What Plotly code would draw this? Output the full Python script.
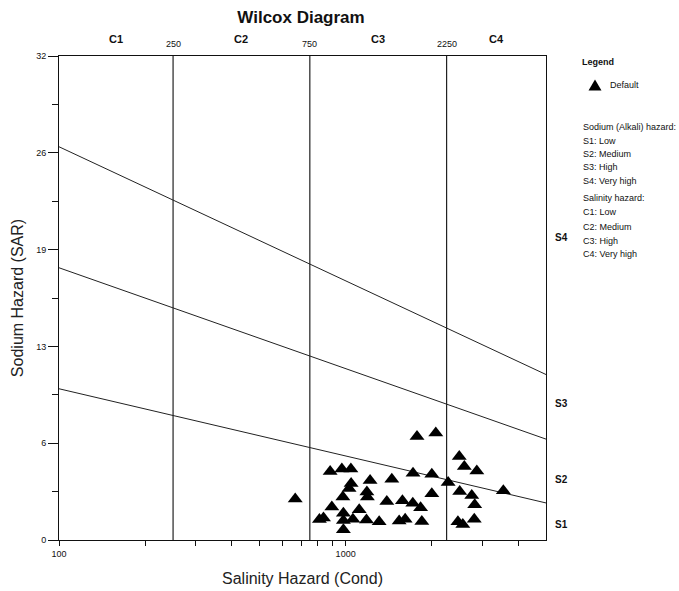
import math
import plotly.graph_objects as go

# ---- data ----
cond = [667, 883, 970, 1043, 1045, 1028, 978, 1217, 1449, 1186, 1191, 895, 837, 810,
        982, 982, 1060, 1115, 1182, 1309, 1392, 1578, 1537, 1613, 982, 1715, 1826, 1844,
        1774, 2063, 1718, 1998, 1998,
        2278, 2491, 2594, 2868, 2500, 2754, 2820, 3549, 2810, 2464, 2563]
sar = [2.71, 4.53, 4.69, 4.69, 3.73, 3.40, 2.84, 3.93, 4.01, 3.17, 2.84, 2.18, 1.45, 1.35,
       1.77, 1.29, 1.37, 2.00, 1.33, 1.20, 2.54, 2.59, 1.26, 1.37, 0.67, 2.43, 2.13, 1.22,
       6.84, 7.07, 4.42, 4.35, 3.06,
       3.80, 5.52, 4.86, 4.57, 3.21, 2.94, 2.33, 3.26, 1.37, 1.20, 1.02]

x_range = [100, 5000]
salinity_bounds = [250, 750, 2250]
salinity_labels = ["C1", "C2", "C3", "C4"]
sodium_lines = [[10.0, 2.45], [18.0, 6.67], [26.0, 10.94]]
sodium_labels = ["S1", "S2", "S3", "S4"]
sodium_label_sar = [1.0, 4.0, 9.0, 20.0]
y_tickvals = [0, 6.4, 12.8, 19.2, 25.6, 32]
y_ticktext = ["0", "6", "13", "19", "26", "32"]
y_minor = [3.2, 9.6, 16.0, 22.4, 28.8]
x_tickvals = [100, 200, 300, 400, 500, 600, 700, 800, 900, 1000, 2000, 3000, 4000]
x_ticktext = ["100", "", "", "", "", "", "", "", "", "1000", "", "", ""]
legend_title = "Legend"
legend_item = "Default"
legend_notes = ["Sodium (Alkali) hazard:", "S1: Low", "S2: Medium", "S3: High", "S4: Very high",
                "Salinity hazard:", "C1: Low", "C2: Medium", "C3: High", "C4: Very high"]

FONT = "Liberation Sans, Arial, sans-serif"
lx0, lx1 = math.log10(x_range[0]), math.log10(x_range[1])
PX0, PX1, PY0, PY1 = 59.0, 546.0, 56.0, 540.0   # plot area in pixels

def xp(v):
    return (math.log10(v) - lx0) / (lx1 - lx0)

def px2x(px):
    return (px - PX0) / (PX1 - PX0)

def py2y(py):
    return (PY1 - py) / (PY1 - PY0)

fig = go.Figure()

for ys in sodium_lines:
    fig.add_trace(go.Scatter(x=x_range, y=ys, mode="lines", line=dict(color="#222", width=1),
                             showlegend=False, hoverinfo="skip"))
for b in salinity_bounds:
    fig.add_trace(go.Scatter(x=[b, b], y=[0, 32], mode="lines", line=dict(color="#222", width=1.2),
                             showlegend=False, hoverinfo="skip"))

fig.add_trace(go.Scatter(x=cond, y=sar, mode="markers", name=legend_item, showlegend=False,
                         marker=dict(symbol="triangle-up", size=13, color="black")))

ann = []
bounds = [x_range[0]] + salinity_bounds + [x_range[1]]
for i, lab in enumerate(salinity_labels):
    mid = math.sqrt(bounds[i] * bounds[i + 1])
    ann.append(dict(x=xp(mid), y=py2y(39), xref="paper", yref="paper", text="<b>%s</b>" % lab,
                    showarrow=False, xanchor="center", yanchor="middle",
                    font=dict(size=11, color="#111", family=FONT)))
for b in salinity_bounds:
    ann.append(dict(x=xp(b), y=py2y(44), xref="paper", yref="paper", text=str(b),
                    showarrow=False, xanchor="center", yanchor="middle",
                    font=dict(size=9, color="#111", family=FONT)))
for lab, s in zip(sodium_labels, sodium_label_sar):
    ann.append(dict(x=px2x(561), y=s / 32, xref="paper", yref="paper",
                    text="<b>%s</b>" % lab, showarrow=False, xanchor="center", yanchor="middle",
                    font=dict(size=10, color="#111", family=FONT)))
# legend
ann.append(dict(x=px2x(580), y=py2y(62), xref="paper", yref="paper", text="<b>%s</b>" % legend_title,
                showarrow=False, xanchor="left", yanchor="middle",
                font=dict(size=9, color="#111", family=FONT)))
ann.append(dict(x=px2x(608), y=py2y(85), xref="paper", yref="paper", text=legend_item,
                showarrow=False, xanchor="left", yanchor="middle",
                font=dict(size=9, color="#111", family=FONT)))
note_y = [126.7, 140.7, 154, 167.3, 181, 198.3, 212.3, 226.7, 241, 254.3]
for t, py in zip(legend_notes, note_y):
    ann.append(dict(x=px2x(580.5), y=py2y(py), xref="paper", yref="paper",
                    text=t, showarrow=False, xanchor="left", yanchor="middle",
                    font=dict(size=9, color="#111", family=FONT)))

# legend symbol (triangle)
tx, ty = 595.0, 85.0
tri = "M %f %f L %f %f L %f %f Z" % (px2x(tx - 6.5), py2y(ty + 5.5), px2x(tx + 6.5), py2y(ty + 5.5),
                                     px2x(tx), py2y(ty - 5.5))
shapes = [dict(type="path", xref="paper", yref="paper", path=tri, fillcolor="black",
               line=dict(width=0))]

fig.update_layout(
    width=679, height=591,
    margin=dict(l=PX0, r=679 - PX1, t=PY0, b=591 - PY1, autoexpand=False),
    paper_bgcolor="white", plot_bgcolor="white",
    font=dict(family=FONT, color="#111"),
    title=dict(text="<b>Wilcox Diagram</b>", x=301 / 679, xanchor="center", y=1 - 17 / 591,
               yanchor="middle", font=dict(size=17, color="#111", family=FONT)),
    annotations=ann,
    shapes=shapes,
    showlegend=False,
    xaxis=dict(type="log", range=[lx0, lx1], showgrid=False, zeroline=False,
               showline=True, linecolor="#111", linewidth=1, mirror=True,
               ticks="outside", ticklen=5, tickcolor="#111", tickwidth=1,
               tickvals=x_tickvals, ticktext=x_ticktext,
               tickfont=dict(size=9, family=FONT, color="#111"),
               title=dict(text="Salinity Hazard (Cond)", standoff=15,
                          font=dict(size=16, family=FONT, color="#222"))),
    yaxis=dict(range=[0, 32], showgrid=False, zeroline=False,
               showline=True, linecolor="#111", linewidth=1, mirror=True,
               ticks="outside", ticklen=10, tickcolor="#111", tickwidth=1,
               tickvals=y_tickvals, ticktext=y_ticktext,
               tickfont=dict(size=9, family=FONT, color="#111"),
               minor=dict(tickvals=y_minor, ticks="outside", ticklen=6, tickcolor="#111"),
               title=dict(text="Sodium Hazard (SAR)", standoff=8,
                          font=dict(size=16, family=FONT, color="#222"))),
)

fig.write_html("out.html", config={"displayModeBar": False},
               post_script="document.body.style.margin='0px';")
